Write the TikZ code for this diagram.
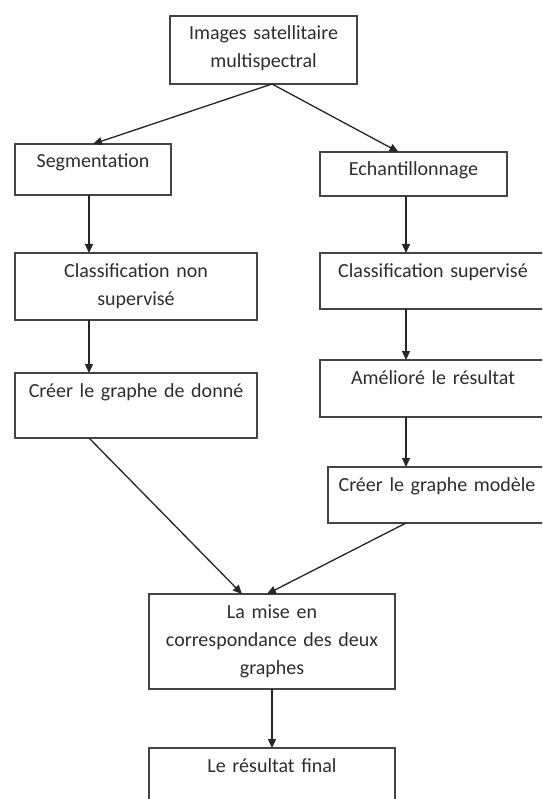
\documentclass[tikz,border=0pt]{standalone}
\usepackage{fontspec}
\setmainfont{Carlito}
\usepackage{xcolor}
\usepackage{tikz}
\usetikzlibrary{arrows.meta, positioning}

\definecolor{linegray}{HTML}{444444}
\definecolor{txtgray}{HTML}{2E2E2E}

\begin{document}
\begin{tikzpicture}[
    x=1pt, y=-1pt,
    every node/.style={font=\fontsize{20}{28}\selectfont},
    box/.style={draw=linegray, line width=1.7pt, anchor=north west, align=center,
                inner xsep=3pt, inner ysep=0pt, outer sep=0pt,
                text height=24pt, text=txtgray},
    arr/.style={-{Triangle[length=9pt, width=8pt]}, line width=1.3pt, draw=black!85, fill=black!85},
]
\useasboundingbox[fill=white] (0,0) rectangle (542,799);
\clip (0,0) rectangle (542,799);

\node[box, text width=181pt, text depth=44pt] (img)  at (170,16)  {Images satellitaire\\multispectral};
\node[box, text width=150pt, text depth=27pt] (seg)  at (15,144)  {Segmentation};
\node[box, text width=181pt, text depth=20pt] (ech)  at (320,152) {Echantillonnage};
\node[box, text width=236pt, text depth=43pt] (cns)  at (15,253)  {Classification non\\supervisé};
\node[box, text width=220pt, text depth=32pt] (csup) at (320,253) {Classification supervisé};
\node[box, text width=236pt, text depth=41pt] (gdon) at (15,373)  {Créer le graphe de donné};
\node[box, text width=220pt, text depth=33pt] (amel) at (320,360) {Amélioré le résultat};
\node[box, text width=212pt, text depth=32pt] (gmod) at (328,467) {Créer le graphe modèle};
\node[box, text width=240pt, text depth=71pt] (mise) at (149,594) {La mise en\\correspondance des deux\\graphes};
\node[box, text width=240pt, text depth=48pt] (fin)  at (149,748) {Le résultat final};

% columns of the vertical arrows
\coordinate (lx) at (89,0);
\coordinate (rx) at (406,0);
\coordinate (cx) at (272,0);

\draw[arr] (cx |- img.south) -- (seg.north);
\draw[arr] (cx |- img.south) -- ([xshift=-15pt]ech.north);
\draw[arr] (lx |- seg.south) -- (lx |- cns.north);
\draw[arr] (lx |- cns.south) -- (lx |- gdon.north);
\draw[arr] (rx |- ech.south) -- (rx |- csup.north);
\draw[arr] (rx |- csup.south) -- (rx |- amel.north);
\draw[arr] (rx |- amel.south) -- (rx |- gmod.north);
\draw[arr] (lx |- gdon.south) -- ([xshift=-30pt]mise.north);
\draw[arr] (rx |- gmod.south) -- ([xshift=-5pt]mise.north);
\draw[arr] (mise.south) -- (fin.north);
\end{tikzpicture}
\end{document}
